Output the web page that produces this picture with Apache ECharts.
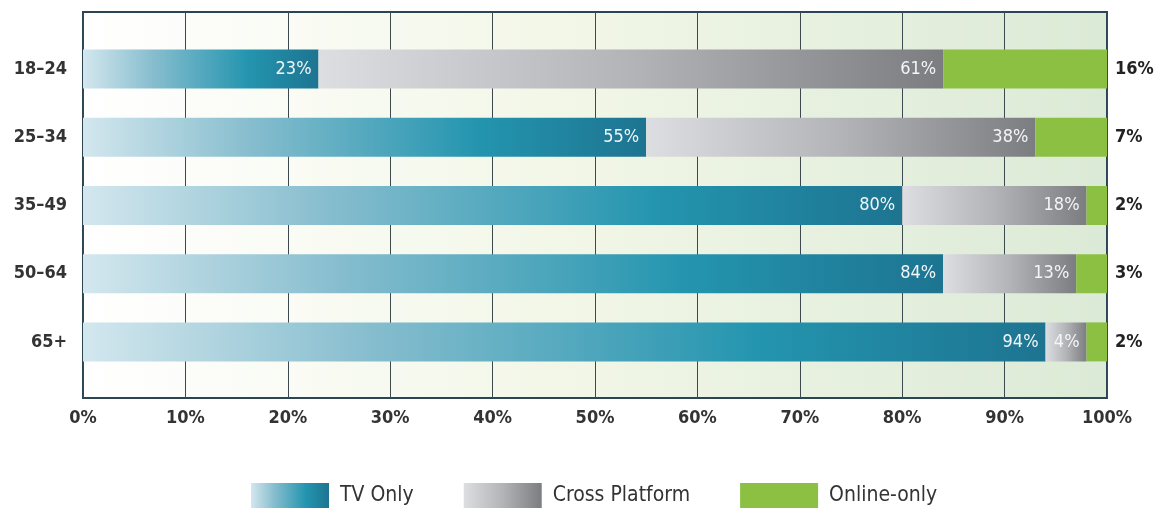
<!DOCTYPE html>
<html>
<head>
<meta charset="utf-8">
<script src="https://cdn.jsdelivr.net/npm/echarts@6/dist/echarts.min.js"></script>
<style>
  html, body { margin: 0; padding: 0; background: #ffffff; }
  #chart { width: 1155px; height: 508px; }
</style>
</head>
<body>
<div id="chart"></div>
<script>
// Viewing share by age group (percent of each group)
const ageGroups = ['18–24', '25–34', '35–49', '50–64', '65+'];
const tvOnly = [23, 55, 80, 84, 94];
const crossPlatform = [61, 38, 18, 13, 4];
const onlineOnly = [16, 7, 2, 3, 2];
const seriesNames = ['TV Only', 'Cross Platform', 'Online-only'];
const percentTicks = [0, 10, 20, 30, 40, 50, 60, 70, 80, 90, 100];

const FONT = '"DejaVu Sans Condensed", "DejaVu Sans", sans-serif';

const grad = (stops) => ({
  type: 'linear', x: 0, y: 0, x2: 1, y2: 0,
  colorStops: stops.map(([offset, color]) => ({ offset, color }))
});

const tvFill = grad([[0, '#d3e7ee'], [0.3, '#86bdce'], [0.7, '#2495af'], [1, '#1d7491']]);
const crossFill = grad([[0, '#dddee1'], [0.5, '#b3b4b7'], [1, '#7c7d81']]);
const onlineFill = '#8cc043';

const innerLabel = {
  show: true,
  position: 'insideRight',
  distance: 7,
  color: '#f2f6f7',
  fontFamily: FONT,
  fontSize: 18,
  formatter: (p) => p.value + '%'
};

const chart = echarts.init(document.getElementById('chart'), null, { renderer: 'canvas' });

chart.setOption({
  animation: false,
  legend: {
    data: seriesNames,
    left: 251,
    top: 483,
    padding: 0,
    icon: 'rect',
    itemWidth: 78,
    itemHeight: 26,
    itemGap: 50,
    selectedMode: false,
    textStyle: { fontFamily: FONT, fontSize: 21, color: '#333333', padding: [0, 0, 0, 6] }
  },
  grid: [
    {
      // frame, background and vertical guides
      left: 83, top: 12, width: 1024, height: 386,
      show: true,
      borderColor: '#2c4555',
      borderWidth: 2,
      backgroundColor: grad([[0, '#ffffff'], [0.45, '#f3f7e8'], [1, '#dbead6']])
    },
    {
      // bars
      left: 83, top: 35, width: 1024, height: 341
    }
  ],
  xAxis: [
    {
      gridIndex: 0,
      type: 'value',
      min: 0, max: 100, interval: 10,
      axisLine: { show: false },
      axisTick: { show: false },
      splitLine: { show: true, lineStyle: { color: '#3c4a50', width: 1 } },
      axisLabel: {
        margin: 11,
        fontFamily: FONT, fontSize: 18, fontWeight: 'bold', color: '#333333',
        formatter: (v) => (percentTicks.includes(v) ? v + '%' : '')
      }
    },
    {
      gridIndex: 1,
      type: 'value',
      min: 0, max: 100,
      show: false
    }
  ],
  yAxis: [
    {
      gridIndex: 0,
      type: 'value',
      show: false,
      splitLine: { show: false }
    },
    {
      gridIndex: 1,
      type: 'category',
      inverse: true,
      data: ageGroups,
      axisLine: { show: false },
      axisTick: { show: false },
      splitLine: { show: false },
      axisLabel: {
        margin: 16,
        fontFamily: FONT, fontSize: 18, fontWeight: 'bold', color: '#333333'
      }
    }
  ],
  series: [
    {
      name: seriesNames[0],
      type: 'bar',
      stack: 'share',
      xAxisIndex: 1, yAxisIndex: 1,
      barWidth: 39,
      data: tvOnly,
      itemStyle: { color: tvFill },
      label: innerLabel
    },
    {
      name: seriesNames[1],
      type: 'bar',
      stack: 'share',
      xAxisIndex: 1, yAxisIndex: 1,
      barWidth: 39,
      data: crossPlatform,
      itemStyle: { color: crossFill },
      label: innerLabel
    },
    {
      name: seriesNames[2],
      type: 'bar',
      stack: 'share',
      xAxisIndex: 1, yAxisIndex: 1,
      barWidth: 39,
      data: onlineOnly,
      itemStyle: { color: onlineFill },
      label: {
        show: true,
        position: 'right',
        distance: 8,
        color: '#222222',
        fontFamily: FONT,
        fontSize: 18,
        fontWeight: 'bold',
        formatter: (p) => p.value + '%'
      }
    }
  ]
});
</script>
</body>
</html>
